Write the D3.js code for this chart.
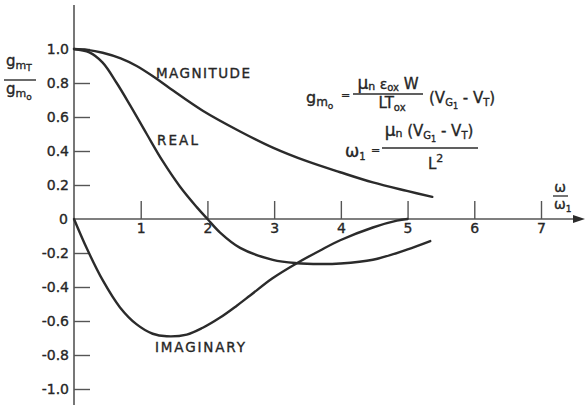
<!DOCTYPE html>
<html>
<head>
<meta charset="utf-8">
<script src="https://cdn.jsdelivr.net/npm/d3@7"></script>
<style>
  body { margin: 0; background: #fff; }
  svg { display: block; }
  text { font-family: "DejaVu Sans", sans-serif; fill: #262626; stroke: #262626; stroke-width: 0.35px; }
</style>
</head>
<body>
<svg id="chart" width="585" height="405"></svg>
<script>
// Normalised frequency ω/ω1 on the x axis, g_mT/g_mo on the y axis
const xTicks = [1, 2, 3, 4, 5, 6, 7];
const yTicks = [1.0, 0.8, 0.6, 0.4, 0.2, 0, -0.2, -0.4, -0.6, -0.8, -1.0];
const yTickLabels = ["1.0", "0.8", "0.6", "0.4", "0.2", "0", "-0.2", "-0.4", "-0.6", "-0.8", "-1.0"];

const magnitudeX = [0, 0.2, 0.43, 0.7, 0.94, 1.2, 1.44, 1.93, 2.49, 2.98, 3.49, 3.99, 4.48, 4.99, 5.37];
const magnitudeY = [1.0, 0.995, 0.978, 0.945, 0.90, 0.835, 0.768, 0.637, 0.515, 0.42, 0.34, 0.275, 0.215, 0.165, 0.13];

const realX = [0, 0.23, 0.43, 0.64, 0.84, 1.09, 1.33, 1.59, 1.84, 2.0, 2.19, 2.49, 2.98, 3.34, 3.69, 3.99, 4.48, 4.99, 5.34];
const realY = [1.0, 0.98, 0.92, 0.80, 0.67, 0.50, 0.34, 0.19, 0.07, 0.0, -0.08, -0.17, -0.24, -0.26, -0.265, -0.262, -0.24, -0.18, -0.13];

const imagX = [0, 0.2, 0.43, 0.69, 0.94, 1.18, 1.39, 1.69, 1.93, 2.19, 2.44, 2.64, 2.97, 3.34, 3.69, 3.99, 4.48, 4.84, 5.0];
const imagY = [0, -0.18, -0.36, -0.52, -0.62, -0.675, -0.69, -0.68, -0.64, -0.58, -0.51, -0.45, -0.35, -0.26, -0.185, -0.125, -0.05, -0.01, 0];

const curveNames = ["MAGNITUDE", "REAL", "IMAGINARY"];

const svg = d3.select("#chart");
const ink = "#2b2b2b";
const axisInk = "#555";

const x = d3.scaleLinear().domain([0, 7]).range([74, 541]);
const y = d3.scaleLinear().domain([-1, 1]).range([389, 49]);

// Axis lines
svg.append("line")
  .attr("x1", x(0)).attr("x2", x(0))
  .attr("y1", 5).attr("y2", 405)
  .attr("stroke", axisInk).attr("stroke-width", 1.6);

svg.append("line")
  .attr("x1", x(0)).attr("x2", 575)
  .attr("y1", y(0)).attr("y2", y(0))
  .attr("stroke", axisInk).attr("stroke-width", 1.6);

svg.append("path")
  .attr("d", `M573,${y(0) - 4}L585,${y(0)}L573,${y(0) + 4}Z`)
  .attr("fill", ink);

// Y axis: ticks point into the plot, labels to the left
const yAxis = d3.axisLeft(y)
  .tickValues(yTicks.filter(d => d !== 0))
  .tickSize(-16)
  .tickPadding(5)
  .tickFormat(d => yTickLabels[yTicks.indexOf(d)]);

const gy = svg.append("g").attr("transform", `translate(${x(0)},0)`).call(yAxis);
gy.select(".domain").remove();
gy.selectAll(".tick line").attr("stroke", axisInk).attr("stroke-width", 1.4);
gy.selectAll(".tick text").attr("font-size", 14).attr("fill", ink)
  .style("font-family", '"DejaVu Sans", sans-serif');

svg.append("text")
  .attr("x", 68).attr("y", y(0)).attr("dy", "0.36em")
  .attr("text-anchor", "end").attr("font-size", 14)
  .text(yTickLabels[yTicks.indexOf(0)]);

// X axis: ticks point upward, labels below
const xAxis = d3.axisBottom(x)
  .tickValues(xTicks)
  .tickSize(-18)
  .tickPadding(4)
  .tickFormat(d3.format("d"));

const gx = svg.append("g").attr("transform", `translate(0,${y(0)})`).call(xAxis);
gx.select(".domain").remove();
gx.selectAll(".tick line").attr("stroke", axisInk).attr("stroke-width", 1.4);
gx.selectAll(".tick text").attr("font-size", 14).attr("fill", ink)
  .style("font-family", '"DejaVu Sans", sans-serif');

// Curves
const line = d3.line()
  .x(d => x(d[0]))
  .y(d => y(d[1]))
  .curve(d3.curveCatmullRom.alpha(0.5));

const series = [
  d3.zip(magnitudeX, magnitudeY),
  d3.zip(realX, realY),
  d3.zip(imagX, imagY)
];

svg.append("g").selectAll("path")
  .data(series)
  .join("path")
  .attr("d", line)
  .attr("fill", "none")
  .attr("stroke", ink)
  .attr("stroke-width", 2.4)
  .attr("stroke-linecap", "round");

// Curve labels
const labelPos = [[156, 78, 94], [157, 145, 41], [155, 352, 90]];
svg.append("g").selectAll("text")
  .data(curveNames)
  .join("text")
  .attr("x", (d, i) => labelPos[i][0])
  .attr("y", (d, i) => labelPos[i][1])
  .attr("font-size", 13.5)
  .attr("textLength", (d, i) => labelPos[i][2])
  .attr("lengthAdjust", "spacing")
  .text(d => d);

// Helper for text with sub/superscript runs: parts = [[str, size, dy]]
function rich(px, py, parts, anchor) {
  const t = svg.append("text").attr("x", px).attr("y", py)
    .attr("text-anchor", anchor || "start");
  parts.forEach(([s, size, dy]) => {
    t.append("tspan").attr("font-size", size).attr("dy", dy || 0).text(s);
  });
  return t;
}

// Y-axis quantity g_mT / g_mo
rich(6, 66, [["g", 15], ["m", 11, 3], ["T", 9, 2]]);
svg.append("line").attr("x1", 4).attr("x2", 36).attr("y1", 80).attr("y2", 80)
  .attr("stroke", ink).attr("stroke-width", 1.4);
rich(6, 94, [["g", 15], ["m", 11, 3], ["o", 9, 3]]);

// X-axis quantity ω / ω1
rich(560, 192, [["ω", 14]], "middle");
svg.append("line").attr("x1", 553).attr("x2", 568).attr("y1", 196).attr("y2", 196)
  .attr("stroke", ink).attr("stroke-width", 1.3);
rich(554, 209, [["ω", 14], ["1", 9, 3]]);

// g_mo = μn εox W / (L Tox) (VG1 − VT)
rich(306, 103, [["g", 16], ["m", 12, 3], ["o", 9, 3]]);
rich(341, 99, [["=", 11]]);
rich(388, 89, [["μ", 17], ["n", 11, 1], [" ε", 14, -1], ["ox", 10, 2], [" W", 15, -2]], "middle");
svg.append("line").attr("x1", 353).attr("x2", 423).attr("y1", 94).attr("y2", 94)
  .attr("stroke", ink).attr("stroke-width", 1.4);
rich(392, 108, [["LT", 15], ["ox", 10, 3]], "middle");
rich(429, 103, [["(V", 15], ["G", 10, 3], ["1", 8, 3], [" - V", 15, -6], ["T", 10, 3], [")", 15, -3]]);

// ω1 = μn (VG1 − VT) / L²
rich(345, 157, [["ω", 17], ["1", 10, 3]]);
rich(371, 154, [["=", 11]]);
rich(429, 136, [["μ", 17], ["n", 11, 1], [" (V", 15, -1], ["G", 10, 3], ["1", 8, 3], [" - V", 15, -6], ["T", 10, 3], [")", 15, -3]], "middle");
svg.append("line").attr("x1", 382).attr("x2", 478).attr("y1", 148).attr("y2", 148)
  .attr("stroke", ink).attr("stroke-width", 1.4);
rich(428, 169, [["L", 15], ["2", 11, -7]]);
</script>
</body>
</html>
